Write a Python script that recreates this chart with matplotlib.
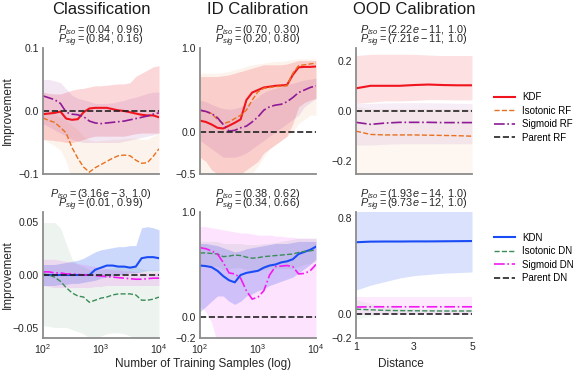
import numpy as np
import matplotlib
matplotlib.use("Agg")
import matplotlib.pyplot as plt

plt.rcParams['font.family'] = ['Liberation Sans', 'DejaVu Sans']
plt.rcParams['mathtext.fontset'] = 'custom'
plt.rcParams['mathtext.rm'] = 'Liberation Sans'
plt.rcParams['mathtext.it'] = 'Liberation Sans:italic'
plt.rcParams['mathtext.bf'] = 'Liberation Sans:bold'

# training sample sizes (log grid)
n_samples = [100, 126, 158, 200, 251, 316, 398, 501, 631, 794, 1000,
             1259, 1585, 1995, 2512, 3162, 3981, 5012, 6310, 7943, 10000]
# OOD distances
distance = [1, 1.5, 2, 2.5, 3, 3.5, 4, 4.5, 5]

# ---- row 1: random forest based models ----
# classification
kdf_cls = [-0.005, -0.004, -0.003, -0.001, -0.012, -0.014, -0.013, -0.002, 0.004, 0.005, 0.005,
           0.005, 0.003, 0.001, 0.000, -0.002, -0.004, -0.006, -0.007, -0.007, -0.010]
kdf_cls_hi = [0.030, 0.028, 0.027, 0.027, 0.030, 0.033, 0.035, 0.036, 0.038, 0.040, 0.040,
              0.041, 0.042, 0.043, 0.043, 0.045, 0.055, 0.060, 0.065, 0.070, 0.072]
kdf_cls_lo = [-0.045, -0.046, -0.047, -0.048, -0.050, -0.050, -0.048, -0.045, -0.042, -0.040, -0.040,
              -0.040, -0.040, -0.040, -0.040, -0.038, -0.036, -0.035, -0.035, -0.035, -0.035]
isorf_cls = [-0.011, -0.015, -0.018, -0.026, -0.035, -0.058, -0.075, -0.089, -0.097, -0.090, -0.085,
             -0.080, -0.075, -0.071, -0.070, -0.071, -0.078, -0.083, -0.082, -0.072, -0.060]
isorf_cls_hi = [0.0, -0.002, -0.005, -0.010, -0.015, -0.022, -0.030, -0.040, -0.046, -0.048, -0.047,
                -0.046, -0.045, -0.045, -0.044, -0.043, -0.043, -0.045, -0.045, -0.040, -0.035]
isorf_cls_lo = [-0.045, -0.050, -0.055, -0.062, -0.080, -0.110, -0.150, -0.150, -0.150, -0.150, -0.150,
                -0.150, -0.150, -0.150, -0.150, -0.150, -0.150, -0.150, -0.150, -0.150, -0.150]
sigrf_cls = [0.024, 0.021, 0.018, 0.012, -0.002, -0.005, -0.006, -0.009, -0.016, -0.019, -0.020,
             -0.019, -0.018, -0.017, -0.016, -0.014, -0.012, -0.010, -0.008, -0.005, -0.003]
sigrf_cls_hi = [0.050, 0.050, 0.048, 0.045, 0.035, 0.025, 0.020, 0.018, 0.015, 0.012, 0.012,
                0.012, 0.013, 0.015, 0.017, 0.020, 0.022, 0.025, 0.028, 0.030, 0.030]
sigrf_cls_lo = [-0.020, -0.025, -0.030, -0.035, -0.040, -0.045, -0.048, -0.050, -0.050, -0.050, -0.050,
                -0.050, -0.050, -0.050, -0.048, -0.046, -0.044, -0.042, -0.040, -0.038, -0.035]

# in-distribution calibration
kdf_id = [0.135, 0.12, 0.09, 0.05, 0.042, 0.075, 0.11, 0.15, 0.38, 0.47, 0.50,
          0.53, 0.54, 0.55, 0.555, 0.56, 0.68, 0.77, 0.775, 0.775, 0.78]
kdf_id_hi = [0.66, 0.66, 0.66, 0.66, 0.67, 0.68, 0.70, 0.72, 0.74, 0.76, 0.78,
             0.80, 0.80, 0.80, 0.80, 0.81, 0.83, 0.85, 0.85, 0.85, 0.85]
kdf_id_lo = [-0.30, -0.35, -0.45, -0.50, -0.55, -0.55, -0.55, -0.50, -0.45, -0.40, -0.35,
             -0.25, -0.20, -0.15, -0.10, -0.05, 0.10, 0.30, 0.35, 0.38, 0.40]
isorf_id = [0.26, 0.24, 0.22, 0.15, 0.10, 0.12, 0.16, 0.20, 0.26, 0.38, 0.48,
            0.52, 0.53, 0.54, 0.545, 0.55, 0.70, 0.79, 0.80, 0.81, 0.82]
isorf_id_hi = [0.70, 0.70, 0.70, 0.70, 0.71, 0.72, 0.74, 0.76, 0.78, 0.80, 0.81,
               0.82, 0.83, 0.84, 0.84, 0.85, 0.86, 0.87, 0.87, 0.87, 0.87]
isorf_id_lo = [-0.50, -0.50, -0.55, -0.60, -0.60, -0.60, -0.60, -0.60, -0.55, -0.50, -0.40,
               -0.30, -0.20, -0.15, -0.10, -0.05, 0.00, 0.10, 0.15, 0.20, 0.20]
sigrf_id = [0.26, 0.245, 0.22, 0.17, 0.09, 0.01, 0.02, 0.05, 0.07, 0.12, 0.18,
            0.26, 0.30, 0.32, 0.33, 0.36, 0.41, 0.47, 0.50, 0.53, 0.55]
sigrf_id_hi = [0.38, 0.36, 0.33, 0.30, 0.28, 0.27, 0.28, 0.30, 0.33, 0.37, 0.42,
               0.47, 0.50, 0.52, 0.54, 0.56, 0.58, 0.60, 0.62, 0.63, 0.64]
sigrf_id_lo = [-0.10, -0.15, -0.20, -0.25, -0.30, -0.30, -0.30, -0.28, -0.25, -0.20, -0.15,
               -0.10, -0.05, 0.00, 0.05, 0.10, 0.15, 0.20, 0.30, 0.35, 0.40]

# out-of-distribution calibration
kdf_ood = [0.09, 0.10, 0.10, 0.10, 0.103, 0.105, 0.103, 0.102, 0.102]
kdf_ood_hi = [0.22, 0.225, 0.225, 0.225, 0.225, 0.222, 0.22, 0.22, 0.22]
kdf_ood_lo = [0.03, 0.035, 0.04, 0.04, 0.042, 0.045, 0.045, 0.044, 0.044]
isorf_ood = [-0.08, -0.093, -0.095, -0.095, -0.095, -0.096, -0.097, -0.098, -0.10]
isorf_ood_hi = [0.02, 0.01, 0.01, 0.01, 0.01, 0.01, 0.01, 0.01, 0.01]
isorf_ood_lo = [-0.30, -0.30, -0.30, -0.30, -0.30, -0.30, -0.30, -0.30, -0.30]
sigrf_ood = [-0.045, -0.053, -0.048, -0.045, -0.045, -0.045, -0.046, -0.046, -0.046]
sigrf_ood_hi = [0.03, 0.03, 0.032, 0.033, 0.033, 0.033, 0.032, 0.03, 0.03]
sigrf_ood_lo = [-0.135, -0.135, -0.132, -0.13, -0.13, -0.13, -0.13, -0.13, -0.13]

# ---- row 2: deep network based models ----
kdn_cls = [0.0, 0.0, 0.0, 0.0, 0.0, 0.0, 0.0, 0.0, 0.0, 0.005, 0.007,
           0.009, 0.009, 0.008, 0.008, 0.007, 0.008, 0.016, 0.017, 0.017, 0.016]
kdn_cls_hi = [0.010, 0.010, 0.010, 0.011, 0.012, 0.013, 0.014, 0.016, 0.019, 0.022, 0.024,
              0.025, 0.026, 0.027, 0.027, 0.028, 0.028, 0.045, 0.046, 0.045, 0.043]
kdn_cls_lo = [-0.010, -0.010, -0.010, -0.009, -0.009, -0.008, -0.008, -0.007, -0.006, -0.005, -0.003,
              -0.002, -0.001, 0.000, 0.001, 0.002, 0.002, 0.003, 0.004, 0.004, 0.004]
isodn_cls = [0.001, 0.0, -0.002, -0.006, -0.012, -0.017, -0.020, -0.021, -0.026, -0.024, -0.022,
             -0.021, -0.019, -0.018, -0.018, -0.018, -0.019, -0.024, -0.024, -0.023, -0.021]
isodn_cls_hi = [0.050, 0.050, 0.050, 0.045, 0.030, 0.015, 0.010, 0.008, 0.005, 0.005, 0.005,
                0.006, 0.007, 0.008, 0.008, 0.008, 0.008, 0.006, 0.005, 0.005, 0.005]
isodn_cls_lo = [-0.048, -0.049, -0.050, -0.050, -0.050, -0.052, -0.054, -0.056, -0.060, -0.060, -0.058,
                -0.056, -0.055, -0.055, -0.056, -0.058, -0.060, -0.065, -0.065, -0.065, -0.065]
sigdn_cls = [0.003, 0.003, 0.002, 0.002, 0.001, 0.001, 0.0005, 0.0, 0.0, -0.0005, -0.001,
             -0.0015, -0.002, -0.0025, -0.003, -0.0035, -0.004, -0.004, -0.0035, -0.003, -0.003]
sigdn_cls_hi = [0.015, 0.015, 0.015, 0.014, 0.013, 0.012, 0.011, 0.010, 0.009, 0.008, 0.007,
                0.006, 0.005, 0.005, 0.004, 0.004, 0.003, 0.003, 0.003, 0.003, 0.003]
sigdn_cls_lo = [-0.010, -0.011, -0.012, -0.012, -0.012, -0.012, -0.012, -0.012, -0.012, -0.011, -0.011,
                -0.010, -0.010, -0.010, -0.010, -0.010, -0.010, -0.010, -0.010, -0.010, -0.010]

kdn_id = [0.49, 0.485, 0.475, 0.44, 0.39, 0.35, 0.33, 0.40, 0.42, 0.43, 0.44,
          0.47, 0.49, 0.50, 0.52, 0.53, 0.55, 0.60, 0.62, 0.64, 0.67]
kdn_id_hi = [0.70, 0.70, 0.69, 0.68, 0.66, 0.64, 0.62, 0.63, 0.65, 0.66, 0.67,
             0.68, 0.69, 0.70, 0.70, 0.70, 0.71, 0.72, 0.72, 0.72, 0.72]
kdn_id_lo = [0.05, 0.10, 0.15, 0.20, 0.20, 0.15, 0.12, 0.15, 0.20, 0.22, 0.25,
             0.27, 0.30, 0.32, 0.34, 0.36, 0.38, 0.42, 0.46, 0.50, 0.55]
isodn_id = [0.61, 0.61, 0.605, 0.60, 0.575, 0.58, 0.59, 0.585, 0.57, 0.56, 0.565,
            0.575, 0.58, 0.585, 0.59, 0.595, 0.60, 0.615, 0.625, 0.63, 0.64]
isodn_id_hi = [0.72, 0.72, 0.72, 0.72, 0.70, 0.70, 0.70, 0.70, 0.69, 0.69, 0.69,
               0.70, 0.70, 0.71, 0.72, 0.73, 0.74, 0.75, 0.75, 0.75, 0.75]
isodn_id_lo = [0.50, 0.50, 0.49, 0.48, 0.45, 0.46, 0.47, 0.47, 0.45, 0.44, 0.44,
               0.45, 0.46, 0.46, 0.46, 0.46, 0.46, 0.48, 0.50, 0.51, 0.53]
sigdn_id = [0.66, 0.65, 0.63, 0.60, 0.52, 0.42, 0.41, 0.37, 0.25, 0.17, 0.19,
            0.25, 0.40, 0.48, 0.485, 0.49, 0.48, 0.41, 0.415, 0.44, 0.50]
sigdn_id_hi = [0.86, 0.86, 0.85, 0.84, 0.83, 0.82, 0.81, 0.80, 0.80, 0.79, 0.78,
               0.78, 0.78, 0.77, 0.77, 0.76, 0.76, 0.75, 0.75, 0.75, 0.75]
sigdn_id_lo = [0.10, 0.05, -0.05, -0.25, -0.30, -0.30, -0.30, -0.30, -0.30, -0.30, -0.30,
               -0.30, -0.30, -0.30, -0.30, -0.30, -0.30, -0.30, -0.30, -0.30, -0.30]

kdn_ood = [0.598, 0.603, 0.604, 0.604, 0.605, 0.605, 0.606, 0.607, 0.608]
kdn_ood_hi = [1.0, 1.0, 1.0, 1.0, 1.0, 1.0, 1.0, 1.0, 1.0]
kdn_ood_lo = [0.20, 0.24, 0.27, 0.30, 0.32, 0.33, 0.34, 0.345, 0.35]
isodn_ood = [0.04, 0.035, 0.03, 0.028, 0.027, 0.026, 0.025, 0.025, 0.025]
isodn_ood_hi = [0.12, 0.09, 0.06, 0.05, 0.045, 0.04, 0.04, 0.04, 0.04]
isodn_ood_lo = [-0.04, -0.02, 0.0, 0.005, 0.01, 0.01, 0.01, 0.01, 0.01]
sigdn_ood = [0.058, 0.06, 0.06, 0.06, 0.06, 0.06, 0.06, 0.06, 0.06]
sigdn_ood_hi = [0.14, 0.14, 0.14, 0.14, 0.14, 0.14, 0.14, 0.14, 0.14]
sigdn_ood_lo = [-0.01, -0.01, -0.01, -0.01, -0.01, -0.01, -0.01, -0.01, -0.01]

# p-values shown above each panel (iso pair, sig pair)
p_text = [[(('0.04', '0.96'), ('0.84', '0.16')), (('0.70', '0.30'), ('0.20', '0.80')),
           (('2.22e-11', '1.0'), ('7.21e-11', '1.0'))],
          [(('3.16e-3', '1.0'), ('0.01', '0.99')), (('0.38', '0.62'), ('0.34', '0.66')),
           (('1.93e-14', '1.0'), ('9.73e-12', '1.0'))]]

titles = ['Classification', 'ID Calibration', 'OOD Calibration']
labels_rf = ['KDF', 'Isotonic RF', 'Sigmoid RF', 'Parent RF']
labels_dn = ['KDN', 'Isotonic DN', 'Sigmoid DN', 'Parent DN']
colors_rf = ['#f0141e', '#e8701e', '#8e1a96']
colors_dn = ['#1a4cf5', '#3a8c58', '#f21af2']

W, H = 581, 374
fig = plt.figure(figsize=(W / 100, H / 100), dpi=100)

col_x = [43, 200, 356]
col_w = 116
row_y = [48, 212]
row_h = 126

ylims = [[(-0.1, 0.1), (-0.5, 1.0), (-0.25, 0.25)],
         [(-0.06, 0.06), (-0.2, 1.0), (-0.2, 0.85)]]
yticks = [[[-0.1, 0.0, 0.1], [-0.5, 0.0, 1.0], [-0.2, 0.0, 0.2]],
          [[-0.05, 0.0, 0.05], [-0.2, 0.0, 1.0], [-0.2, 0.0, 0.8]]]
yfmt = [['%.1f', '%.1f', '%.1f'], ['%.2f', '%.1f', '%.1f']]

data = [
    [[(kdf_cls, kdf_cls_lo, kdf_cls_hi), (isorf_cls, isorf_cls_lo, isorf_cls_hi), (sigrf_cls, sigrf_cls_lo, sigrf_cls_hi)],
     [(kdf_id, kdf_id_lo, kdf_id_hi), (isorf_id, isorf_id_lo, isorf_id_hi), (sigrf_id, sigrf_id_lo, sigrf_id_hi)],
     [(kdf_ood, kdf_ood_lo, kdf_ood_hi), (isorf_ood, isorf_ood_lo, isorf_ood_hi), (sigrf_ood, sigrf_ood_lo, sigrf_ood_hi)]],
    [[(kdn_cls, kdn_cls_lo, kdn_cls_hi), (isodn_cls, isodn_cls_lo, isodn_cls_hi), (sigdn_cls, sigdn_cls_lo, sigdn_cls_hi)],
     [(kdn_id, kdn_id_lo, kdn_id_hi), (isodn_id, isodn_id_lo, isodn_id_hi), (sigdn_id, sigdn_id_lo, sigdn_id_hi)],
     [(kdn_ood, kdn_ood_lo, kdn_ood_hi), (isodn_ood, isodn_ood_lo, isodn_ood_hi), (sigdn_ood, sigdn_ood_lo, sigdn_ood_hi)]],
]

# band transparency for [kernel model, isotonic, sigmoid] per row
band_alpha = [[0.17, 0.08, 0.1], [0.22, 0.09, 0.12]]
styles = ['-', '--', '-.']
widths = [1.5, 1.0, 1.2]


def ptex(v):
    # spaced minus inside the exponent, as in the reference
    return v.replace('-', r'\:{-}\:')


for r in range(2):
    colors = colors_rf if r == 0 else colors_dn
    labels = labels_rf if r == 0 else labels_dn
    for c in range(3):
        ax = fig.add_axes([col_x[c] / W, 1 - (row_y[r] + row_h) / H, col_w / W, row_h / H])
        x = n_samples if c < 2 else distance
        for k, (m, lo, hi) in enumerate(data[r][c]):
            a = band_alpha[r][k] * (0.75 if c == 2 else 1.0)
            ax.fill_between(x, lo, hi, color=colors[k], alpha=a, lw=0)
        for k, (m, lo, hi) in enumerate(data[r][c]):
            ax.plot(x, m, color=colors[k], ls=styles[k], lw=widths[k], label=labels[k])
        ax.axhline(0, color='#222222', ls='--', lw=1.2, label=labels[3])

        if c < 2:
            ax.set_xscale('log')
            ax.set_xlim(100, 10000)
            ax.set_xticks([100, 1000, 10000])
        else:
            ax.set_xlim(1, 5)
            ax.set_xticks([1, 3, 5])
            ax.set_xticklabels(['1', '3', '5'])
        ax.minorticks_off()
        ax.set_ylim(*ylims[r][c])
        ax.set_yticks(yticks[r][c])
        ax.set_yticklabels([(yfmt[r][c] % v).replace('-', '\u2212') for v in yticks[r][c]])
        if r == 0:
            ax.set_xticklabels([])
        for s in ['top', 'right']:
            ax.spines[s].set_visible(False)
        for s in ['left', 'bottom']:
            ax.spines[s].set_color('#8c8c8c')
            ax.spines[s].set_linewidth(1.3)
        ax.tick_params(length=0, labelsize=7.5, colors='#262626', pad=3)

        cx = (col_x[c] + col_w / 2) / W
        (ia, ib), (sa, sb) = p_text[r][c]
        fig.text(cx, 1 - (row_y[r] - 15) / H, r'$P_{iso} = (%s,\:%s)$' % (ptex(ia), ib), ha='center',
                 va='baseline', fontsize=7.8, color='#262626')
        fig.text(cx, 1 - (row_y[r] - 4.5) / H, r'$P_{sig} = (%s,\:%s)$' % (ptex(sa), sb), ha='center',
                 va='baseline', fontsize=7.8, color='#262626')
        if r == 0:
            fig.text(cx, 1 - 10 / H, titles[c], ha='center', va='center', fontsize=12, color='#1a1a1a')
        if c == 0:
            fig.text(8 / W, 1 - (row_y[r] + row_h / 2) / H, 'Improvement', rotation=90,
                     ha='center', va='center', fontsize=8.5, color='#262626')
        if c == 2:
            handles, labs = ax.get_legend_handles_labels()
            leg_y = 117.5 if r == 0 else 258
            fig.legend(handles, labs, loc='center left', bbox_to_anchor=(494 / W, 1 - leg_y / H),
                       frameon=False, fontsize=7, handlelength=2.2, handletextpad=0.7,
                       labelspacing=0.35, borderpad=0, borderaxespad=0)

fig.text(203 / W, 1 - 364 / H, 'Number of Training Samples (log)', ha='center', va='center',
         fontsize=8.5, color='#262626')
fig.text(401 / W, 1 - 364 / H, 'Distance', ha='center', va='center', fontsize=8.5, color='#262626')

fig.savefig('out.png', dpi=100)
